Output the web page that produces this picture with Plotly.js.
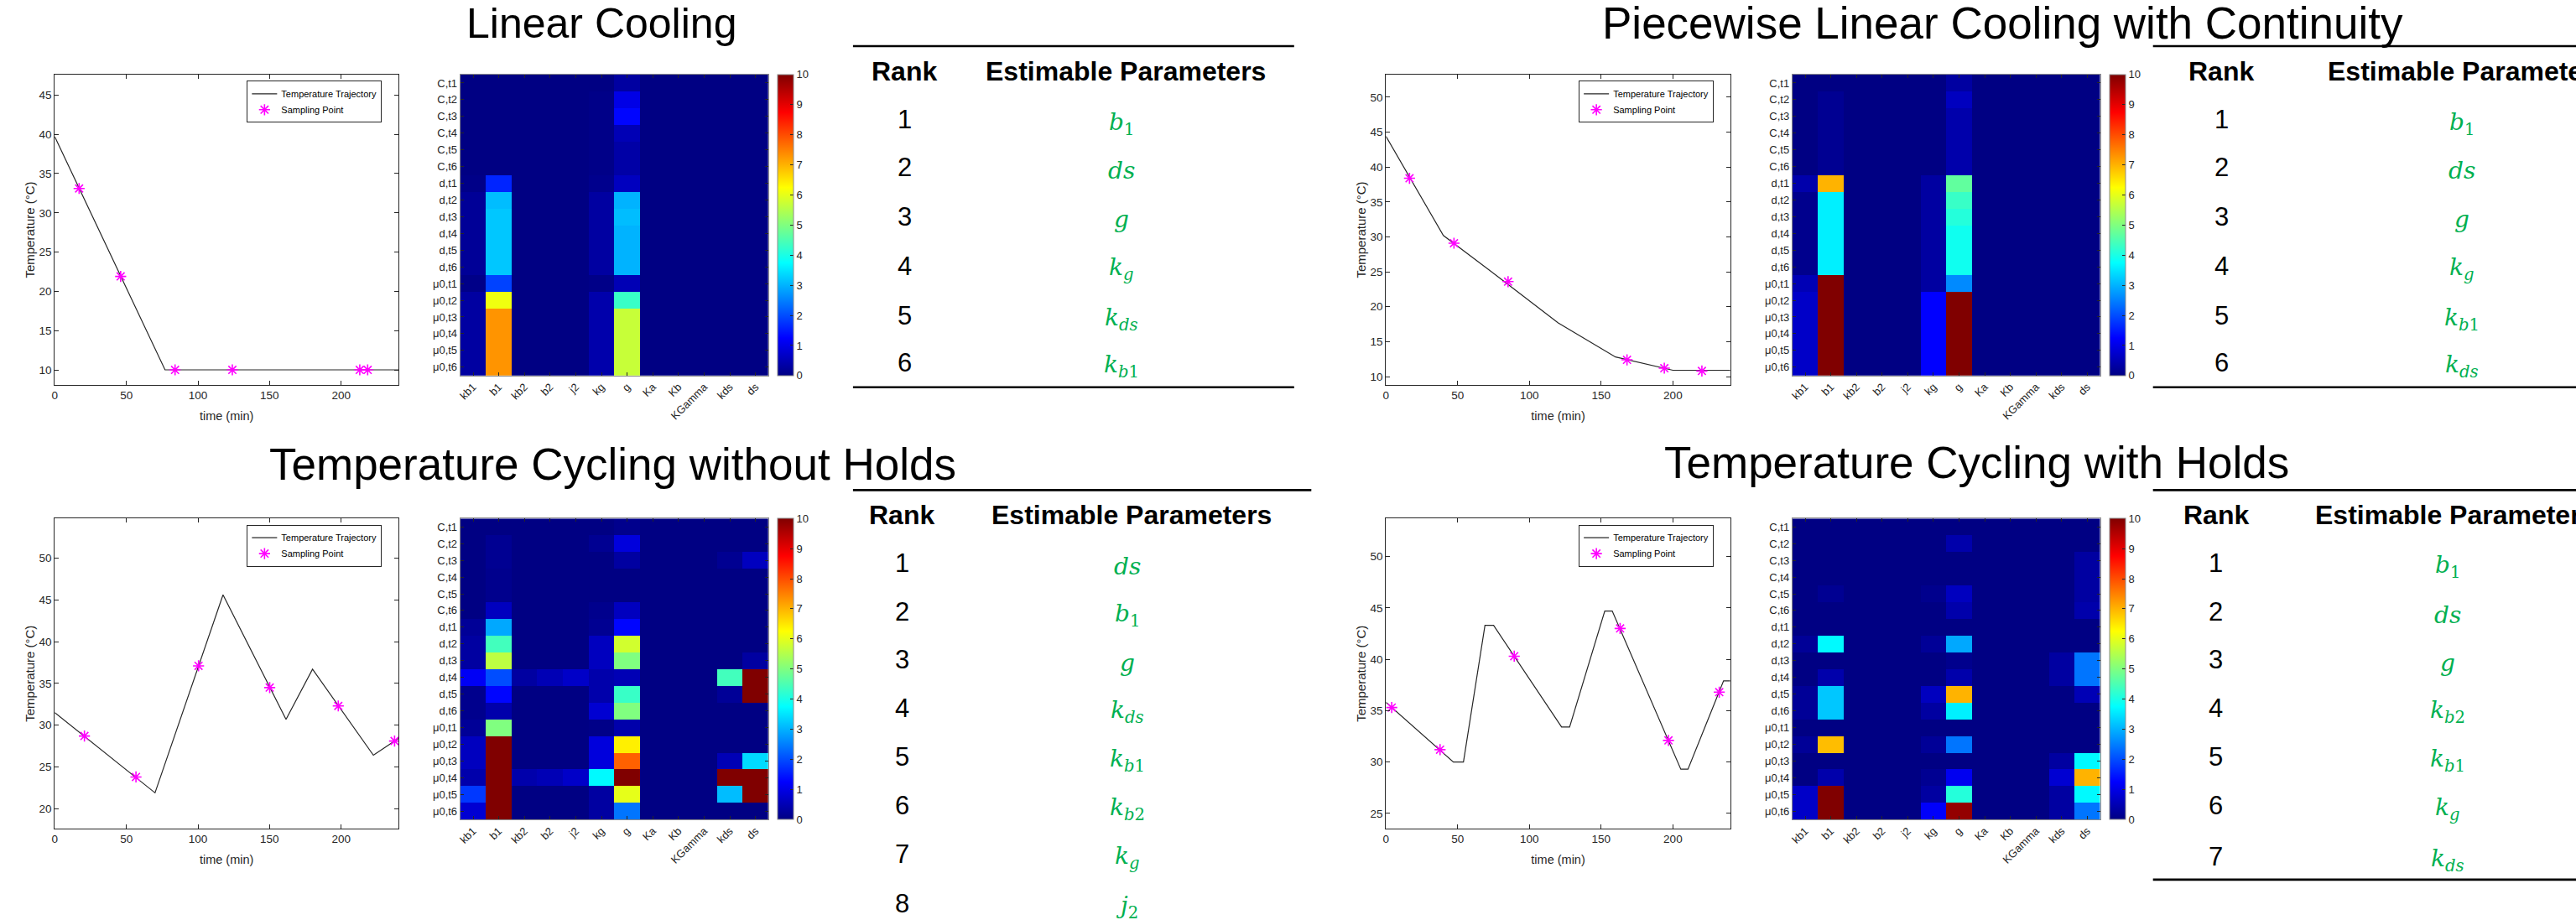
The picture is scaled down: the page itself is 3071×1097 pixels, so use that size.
<!DOCTYPE html>
<html><head><meta charset="utf-8">
<script src="https://cdn.plot.ly/plotly-3.0.1.min.js"></script>
<style>html,body{margin:0;padding:0;background:#fff;overflow:hidden}#chart{width:3071px;height:1097px}</style>
</head><body><div id="chart"></div>
<script>
// ================= DATA =================
const paramNames = ['kb1','b1','kb2','b2','j2','kg','g','Ka','Kb','KGamma','kds','ds'];
const outputLabels = ['C,t1','C,t2','C,t3','C,t4','C,t5','C,t6',
  'd,t1','d,t2','d,t3','d,t4','d,t5','d,t6',
  'μ0,t1','μ0,t2','μ0,t3','μ0,t4','μ0,t5','μ0,t6'];

// Linear Cooling
const linearTime = [0, 77, 240];
const linearTemp = [39.7, 10, 10];
const linearSampleTime = [17, 46, 84, 124, 213, 218.5];
const linearSampleTemp = [33.1, 21.9, 10, 10, 10, 10];
const linearSens = [
  [0,0,0,0,0,0,0.3,0,0,0,0,0],
  [0,0,0,0,0,0.05,1.0,0,0,0,0,0],
  [0,0,0,0,0,0.05,1.3,0,0,0,0,0],
  [0,0,0,0,0,0.05,0.5,0,0,0,0,0],
  [0,0,0,0,0,0.05,0.35,0,0,0,0,0],
  [0,0,0,0,0,0.05,0.35,0,0,0,0,0],
  [0.05,1.6,0,0,0,0.1,0.6,0,0,0,0,0],
  [0.2,3.1,0,0,0,0.3,3.0,0,0,0,0,0],
  [0.2,3.2,0,0,0,0.3,3.1,0,0,0,0,0],
  [0.2,3.2,0,0,0,0.3,3.0,0,0,0,0,0],
  [0.2,3.2,0,0,0,0.3,3.0,0,0,0,0,0],
  [0.2,3.2,0,0,0,0.3,3.0,0,0,0,0,0],
  [0.05,1.9,0,0,0,0.05,0.5,0,0,0,0,0],
  [0.3,6.1,0,0,0,0.4,4.3,0,0,0,0,0],
  [0.3,7.3,0,0,0,0.4,5.7,0,0,0,0,0],
  [0.3,7.3,0,0,0,0.4,5.7,0,0,0,0,0],
  [0.3,7.3,0,0,0,0.4,5.7,0,0,0,0,0],
  [0.3,7.3,0,0,0,0.4,5.7,0,0,0,0,0]
];
const linearRanks = [1,2,3,4,5,6];
const linearParams = ['b_1','ds','g','k_g','k_ds','k_b1'];

// Piecewise Linear Cooling with Continuity
const piecewiseTime = [0, 40, 80, 120, 160, 200, 240];
const piecewiseTemp = [44.4, 30.2, 24.0, 17.7, 12.8, 10.9, 10.9];
const piecewiseSampleTime = [16.4, 47.4, 85.1, 168, 194, 220.2];
const piecewiseSampleTemp = [38.4, 29.1, 23.6, 12.4, 11.2, 10.8];
const piecewiseSens = [
  [0,0,0,0,0,0,0.3,0,0,0,0,0],
  [0,0.15,0,0,0,0,0.6,0,0,0,0,0],
  [0,0.15,0,0,0,0,0.4,0,0,0,0,0],
  [0,0.15,0,0,0,0,0.4,0,0,0,0,0],
  [0,0.15,0,0,0,0,0.4,0,0,0,0,0],
  [0,0.15,0,0,0,0,0.4,0,0,0,0,0],
  [0.4,7.0,0,0,0,0.3,4.7,0,0,0,0,0],
  [0.1,3.6,0,0,0,0.3,4.3,0,0,0,0,0],
  [0.1,3.6,0,0,0,0.3,4.1,0,0,0,0,0],
  [0.1,3.6,0,0,0,0.3,3.9,0,0,0,0,0],
  [0.1,3.6,0,0,0,0.3,3.9,0,0,0,0,0],
  [0.1,3.6,0,0,0,0.3,3.9,0,0,0,0,0],
  [0.5,10,0,0,0,0.3,2.6,0,0,0,0,0],
  [0.7,10,0,0,0,1.25,10,0,0,0,0,0],
  [0.7,10,0,0,0,1.25,10,0,0,0,0,0],
  [0.7,10,0,0,0,1.25,10,0,0,0,0,0],
  [0.7,10,0,0,0,1.25,10,0,0,0,0,0],
  [0.7,10,0,0,0,1.25,10,0,0,0,0,0]
];
const piecewiseRanks = [1,2,3,4,5,6];
const piecewiseParams = ['b_1','ds','g','k_g','k_b1','k_ds'];

// Temperature Cycling without Holds
const noHoldTime = [0, 70, 117.5, 161.5, 180, 222.5, 240];
const noHoldTemp = [31.5, 21.9, 45.6, 30.7, 36.7, 26.4, 28.4];
const noHoldSampleTime = [20.7, 56.7, 100.4, 150.1, 198, 237.3];
const noHoldSampleTemp = [28.7, 23.8, 37.1, 34.5, 32.3, 28.1];
const noHoldSens = [
  [0,0,0,0,0,0,0.1,0,0,0,0,0],
  [0,0.15,0,0,0,0.15,0.9,0,0,0,0,0],
  [0,0.15,0,0,0,0,0.3,0,0,0,0.15,0.6],
  [0,0.1,0,0,0,0,0,0,0,0,0,0],
  [0,0.1,0,0,0,0,0,0,0,0,0,0],
  [0,0.6,0,0,0,0.1,0.6,0,0,0,0,0],
  [0.2,2.9,0,0,0,0.15,1.3,0,0,0,0,0],
  [0.3,4.4,0,0,0,0.6,5.8,0,0,0,0,0],
  [0.3,5.6,0,0,0,0.6,5.0,0,0,0,0,0.3],
  [1.15,2.0,0.3,0.5,0.7,0.4,0.5,0,0,0,4.4,10],
  [0.1,1.3,0,0,0,0.4,4.3,0,0,0,0.2,10],
  [0.1,0.4,0,0,0,0.8,5.0,0,0,0,0,0],
  [0.2,5.0,0,0,0,0.05,0.4,0,0,0,0,0],
  [0.6,10,0,0,0,0.9,6.4,0,0,0,0,0],
  [0.6,10,0,0,0,0.9,7.8,0,0,0,0.5,3.4],
  [0.4,10,0.4,0.5,0.7,3.7,10,0,0,0,10,10],
  [1.8,10,0,0,0,0.3,6.0,0,0,0,3.1,10],
  [0.8,10,0,0,0,0.3,2.4,0,0,0,0,0]
];
const noHoldRanks = [1,2,3,4,5,6,7,8];
const noHoldParams = ['ds','b_1','g','k_ds','k_b1','k_b2','k_g','j_2'];

// Temperature Cycling with Holds
const holdTime = [0, 47, 54, 69, 75, 122.4, 128, 152.5, 157.7, 205.5, 210.5, 235.3, 240];
const holdTemp = [35.8, 30.0, 30.0, 43.3, 43.3, 33.4, 33.4, 44.7, 44.7, 29.3, 29.3, 37.9, 37.9];
const holdSampleTime = [4, 37.7, 89.4, 163.2, 196.9, 232.3];
const holdSampleTemp = [35.3, 31.2, 40.3, 43.0, 32.1, 36.8];
const holdSens = [
  [0,0,0,0,0,0,0,0,0,0,0,0],
  [0,0,0,0,0,0,0.4,0,0,0,0,0],
  [0,0,0,0,0,0,0,0,0,0,0,0.3],
  [0,0,0,0,0,0,0,0,0,0,0,0.3],
  [0,0.15,0,0,0,0.1,0.6,0,0,0,0,0.3],
  [0,0,0,0,0,0,0.4,0,0,0,0,0.4],
  [0,0,0,0,0,0,0,0,0,0,0,0],
  [0.2,3.7,0,0,0,0.2,2.9,0,0,0,0,0],
  [0,0,0,0,0,0,0.1,0,0,0,0.3,2.4],
  [0,0.4,0,0,0,0,0.4,0,0,0,0.3,2.4],
  [0.2,3.2,0,0,0,0.6,7.0,0,0,0,0,0.5],
  [0.2,3.2,0,0,0,0.3,3.6,0,0,0,0,0],
  [0,0,0,0,0,0,0,0,0,0,0,0],
  [0.2,6.9,0,0,0,0.2,2.4,0,0,0,0,0],
  [0,0,0,0,0,0,0,0,0,0,0.3,3.7],
  [0,0.4,0,0,0,0.15,1.1,0,0,0,0.8,7.0],
  [0.7,10,0,0,0,0.3,4.1,0,0,0,0.3,3.7],
  [0.7,10,0,0,0,1.2,9.8,0,0,0,0.3,2.4]
];
const holdRanks = [1,2,3,4,5,6,7];
const holdParams = ['b_1','ds','g','k_b2','k_b1','k_g','k_ds'];

const panelTitles = ['Linear Cooling','Piecewise Linear Cooling with Continuity',
  'Temperature Cycling without Holds','Temperature Cycling with Holds'];
const colorbarTicks = [0,1,2,3,4,5,6,7,8,9,10];

// ================= LAYOUT HELPERS =================
const W = 3071, H = 1097;
const px = x => x / W;
const py = y => 1 - y / H;
const SANS = 'Liberation Sans, Arial, Helvetica, sans-serif';
const AX = '#262626';
const jet = [[0,'rgb(0,0,131)'],[0.125,'rgb(0,0,255)'],[0.375,'rgb(0,255,255)'],
             [0.625,'rgb(255,255,0)'],[0.875,'rgb(255,0,0)'],[1,'rgb(128,0,0)']];

function fmtParam(p){
  const parts = p.split('_');
  let s = '<i>' + parts[0] + '</i>';
  if (parts.length > 1) {
    const sub = parts[1].replace(/([a-z]+)/g, '<i>$1</i>');
    s += '<sub>' + sub + '</sub>';
  }
  return s;
}

// panel geometry (pixels)
const rowsTop = [89, 459], rowsBot = [618.3, 988.2];
const heatTop = [89, 447.7], heatBot = [618.3, 977.1];
const lineLeft = [65.3, 475], lineRight = [1652.3, 2062.8];
const heatLeft = [548.7, 916], heatRight = [2136.8, 2503.6];
const cbLeft = 927.3, cbRight = 2515.3;

const panels = [
  {t: linearTime, T: linearTemp, st: linearSampleTime, sT: linearSampleTemp, z: linearSens,
   lx: lineLeft, ly: rowsTop, hx: heatLeft, hy: heatTop, cb: cbLeft, yr: [8.08, 47.6], yt: [10,15,20,25,30,35,40,45]},
  {t: piecewiseTime, T: piecewiseTemp, st: piecewiseSampleTime, sT: piecewiseSampleTemp, z: piecewiseSens,
   lx: lineRight, ly: rowsTop, hx: heatRight, hy: heatTop, cb: cbRight, yr: [8.8, 53.24], yt: [10,15,20,25,30,35,40,45,50]},
  {t: noHoldTime, T: noHoldTemp, st: noHoldSampleTime, sT: noHoldSampleTemp, z: noHoldSens,
   lx: lineLeft, ly: rowsBot, hx: heatLeft, hy: heatBot, cb: cbLeft, yr: [17.6, 54.73], yt: [20,25,30,35,40,45,50]},
  {t: holdTime, T: holdTemp, st: holdSampleTime, sT: holdSampleTemp, z: holdSens,
   lx: lineRight, ly: rowsBot, hx: heatRight, hy: heatBot, cb: cbRight, yr: [23.5, 53.7], yt: [25,30,35,40,45,50]}
];

const data = [];
const layout = {
  width: W, height: H, margin: {l:0, r:0, t:0, b:0},
  paper_bgcolor: '#fff', plot_bgcolor: '#fff',
  font: {family: SANS, color: AX},
  showlegend: true, annotations: [], shapes: []
};

panels.forEach((p, i) => {
  const li = 2*i + 1, hi = 2*i + 2;
  const lxa = 'x' + (li === 1 ? '' : li), lya = 'y' + (li === 1 ? '' : li);
  const hxa = 'x' + hi, hya = 'y' + hi;
  const legName = i === 0 ? 'legend' : 'legend' + (i + 1);

  data.push({type:'scatter', mode:'lines', x: p.t, y: p.T, xaxis: lxa, yaxis: lya,
    name:'Temperature Trajectory', legend: legName, line:{color:'#262626', width:1.2}});
  data.push({type:'scatter', mode:'markers', x: p.st, y: p.sT, xaxis: lxa, yaxis: lya,
    name:'Sampling Point', legend: legName,
    marker:{symbol:'asterisk-open', size:11, color:'#ff00ff', line:{color:'#ff00ff', width:1.6}}});
  data.push({type:'heatmap', x: paramNames, y: outputLabels, z: p.z, xaxis: hxa, yaxis: hya,
    zmin:0, zmax:10, colorscale: jet, showlegend:false,
    colorbar:{x: px(p.cb), xanchor:'left', y: py((p.hy[0]+p.hy[1])/2), yanchor:'middle',
      len: p.hy[1]-p.hy[0], lenmode:'pixels', thickness: 18.6, thicknessmode:'pixels',
      xpad:0, ypad:0, outlinewidth:1, outlinecolor:'#8c8c8c',
      tickvals: colorbarTicks, ticks:'inside', ticklen:4, tickcolor:'#262626',
      tickfont:{size:13, color:AX, family:SANS}}});

  const lineAx = {showline:true, linecolor:AX, linewidth:1, mirror:'ticks', ticks:'inside',
    ticklen:5, tickcolor:AX, showgrid:false, zeroline:false, tickfont:{size:13.5, color:AX}};
  layout['xaxis' + (li === 1 ? '' : li)] = Object.assign({}, lineAx, {
    domain:[px(p.lx[0]), px(p.lx[1])], anchor: lya, range:[0,240], tickvals:[0,50,100,150,200],
    title:{text:'time (min)', font:{size:14.5, color:AX}, standoff:12}});
  layout['yaxis' + (li === 1 ? '' : li)] = Object.assign({}, lineAx, {
    domain:[py(p.ly[1]), py(p.ly[0])], anchor: lxa, range: p.yr, tickvals: p.yt,
    title:{text:'Temperature (°C)', font:{size:15, color:AX}, standoff:1}});

  const heatAx = {showline:true, linecolor:'#8c8c8c', linewidth:1, mirror:'ticks', ticks:'inside',
    ticklen:4, tickcolor:AX, showgrid:false, zeroline:false, tickfont:{size:13, color:AX}};
  layout['xaxis' + hi] = Object.assign({}, heatAx, {
    domain:[px(p.hx[0]), px(p.hx[1])], anchor: hya, type:'category', tickangle:-45});
  layout['yaxis' + hi] = Object.assign({}, heatAx, {
    domain:[py(p.hy[1]), py(p.hy[0])], anchor: hxa, type:'category', autorange:'reversed'});

  layout[legName] = {x: px(p.lx[1]) - 0.0064, xanchor:'right', y: py(p.ly[0] + 7.3), yanchor:'top',
    bgcolor:'#fff', bordercolor:AX, borderwidth:1, font:{size:11, color:'#000', family:SANS},
    tracegroupgap:0, itemwidth:30};
});

// ================= TITLES =================
const titleSpecs = [
  {x: 716.7, y: 28, size: 50},
  {x: 2387, y: 27.5, size: 53},
  {x: 730, y: 553, size: 53},
  {x: 2356, y: 551, size: 53}
];
titleSpecs.forEach((s, i) => {
  layout.annotations.push({xref:'paper', yref:'paper', x: px(s.x), y: py(s.y), xanchor:'center', yanchor:'middle',
    showarrow:false, text: panelTitles[i], font:{size: s.size, color:'#000', family:SANS}});
});

// ================= TABLES =================
const tables = [
  {ranks: linearRanks, params: linearParams, ruleX:[1016.9,1542.8], topY:55, botY:461.7,
   rankX:1078, headX:1342, headAnchor:'center', paramX:1337, headY:85, rowY:[143,200,258,317,376,433]},
  {ranks: piecewiseRanks, params: piecewiseParams, ruleX:[2566.7,3071], topY:55, botY:461.7,
   rankX:2648.3, headX:2773.3, headAnchor:'left', paramX:2935, headY:85, rowY:[143,200,258,317,376,433]},
  {ranks: noHoldRanks, params: noHoldParams, ruleX:[1016.9,1563.3], topY:584.4, botY:null,
   rankX:1075.4, headX:1349, headAnchor:'center', paramX:1343.9, headY:613.9,
   rowY:[671.6,729,786.8,844.6,902.8,960.6,1018.7,1077.6]},
  {ranks: holdRanks, params: holdParams, ruleX:[2566.7,3071], topY:584.4, botY:1048.9,
   rankX:2641.7, headX:2757.7, headAnchor:'left', paramX:2918.3, headY:613.9,
   rowY:[671.6,729,786.8,844.6,902.8,960.6,1021.3]}
];
tables.forEach(tb => {
  const rule = y => ({type:'line', xref:'paper', yref:'paper', x0: px(tb.ruleX[0]), x1: px(tb.ruleX[1]),
    y0: py(y), y1: py(y), line:{color:'#000', width:2.6}});
  layout.shapes.push(rule(tb.topY));
  if (tb.botY !== null) layout.shapes.push(rule(tb.botY));
  layout.annotations.push({xref:'paper', yref:'paper', x: px(tb.rankX), y: py(tb.headY), xanchor:'center',
    yanchor:'middle', showarrow:false, text:'<b>Rank</b>', font:{size:32, color:'#000', family:SANS}});
  layout.annotations.push({xref:'paper', yref:'paper', x: px(tb.headX), y: py(tb.headY), xanchor: tb.headAnchor,
    yanchor:'middle', showarrow:false, text:'<b>Estimable Parameters</b>', font:{size:32, color:'#000', family:SANS}});
  tb.ranks.forEach((r, k) => {
    layout.annotations.push({xref:'paper', yref:'paper', x: px(tb.rankX), y: py(tb.rowY[k]), xanchor:'center',
      yanchor:'middle', showarrow:false, text: String(r), font:{size:31, color:'#000', family:SANS}});
    layout.annotations.push({xref:'paper', yref:'paper', x: px(tb.paramX), y: py(tb.rowY[k] + 4), xanchor:'center',
      yanchor:'middle', showarrow:false, text: fmtParam(tb.params[k]),
      font:{size:28, color:'#00b050', family:'DejaVu Serif, serif'}});
  });
});

Plotly.newPlot('chart', data, layout, {staticPlot:true, displayModeBar:false});
</script>
</body></html>
